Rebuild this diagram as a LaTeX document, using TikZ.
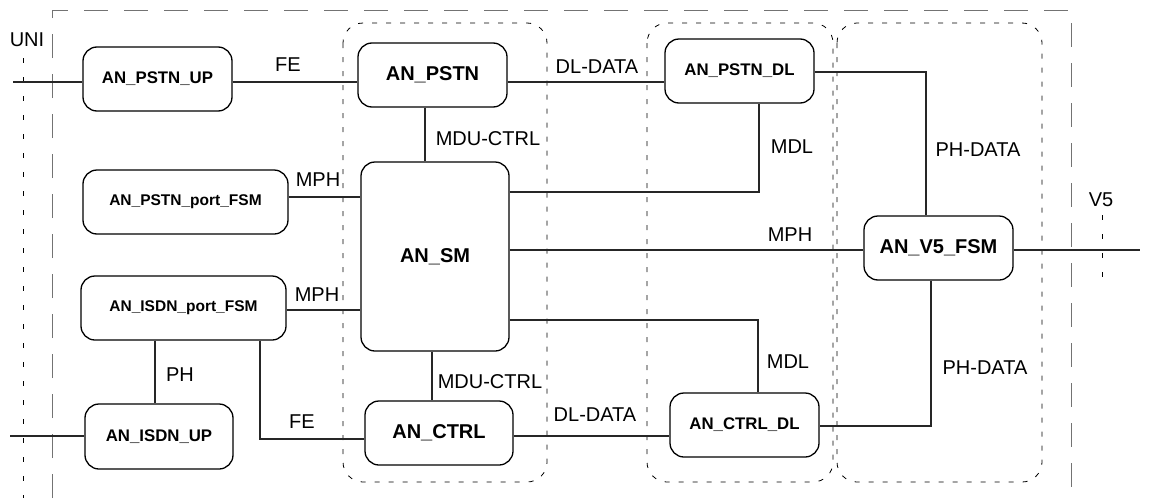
\documentclass[tikz,border=0pt]{standalone}
\usepackage{fontspec}
\setmainfont{Liberation Sans}
\begin{document}
\begin{tikzpicture}[x=1pt,y=-1pt,
  blk/.style={draw=black, line width=1.3pt, rounded corners=14pt, inner sep=0pt, minimum width=149pt, minimum height=64pt, font=\bfseries},
  bigtxt/.style={font=\fontsize{20}{24}\selectfont\bfseries},
  midtxt/.style={font=\fontsize{16.8}{20}\selectfont\bfseries},
  smltxt/.style={font=\fontsize{15.5}{19}\selectfont\bfseries},
  lbl/.style={font=\fontsize{20}{24}\selectfont, inner sep=0pt},
  wire/.style={line width=1.3pt, draw=black!85},
  grp/.style={draw=black, line width=0.8pt, dash pattern=on 5pt off 9pt, rounded corners=20pt},
  frame/.style={draw=black!55, line width=0.9pt, dash pattern=on 24pt off 16pt},
  refline/.style={draw=black, line width=0.9pt, dash pattern=on 5pt off 14pt}]
\useasboundingbox (0,0) rectangle (1151,498);
% outer frame
\draw[frame] (52,498) -- (52,10) -- (1071,10) -- (1071,498);
% groups
\draw[grp] (343,23) rectangle (547,482);
\draw[grp] (647,23) rectangle (833,482);
\draw[grp] (837,23) rectangle (1042,482);
% reference points
\draw[refline] (23,58) -- (23,498);
\node[lbl] (uni) at (27,40) {UNI};
\draw[refline] (1102,215) -- (1102,280);
\node[lbl] (v5lbl) at (1101,200) {V5};
% blocks
\node[blk, midtxt] (pstnup) at (157.5,79) {AN\_PSTN\_UP};
\node[blk, smltxt, minimum width=205pt] (pfsm) at (185.5,202) {AN\_PSTN\_port\_FSM};
\node[blk, smltxt, minimum width=205pt] (ifsm) at (183.5,308) {AN\_ISDN\_port\_FSM};
\node[blk, midtxt, minimum width=148pt, minimum height=65pt] (iup) at (159,436.5) {AN\_ISDN\_UP};
\node[blk, bigtxt] (pstn) at (432.5,75) {AN\_PSTN};
\node[blk, bigtxt, minimum width=148pt, minimum height=189pt] (sm) at (435,256.5) {AN\_SM};
\node[blk, bigtxt, minimum width=148pt] (ctrl) at (439,433) {AN\_CTRL};
\node[blk, midtxt] (pstndl) at (739.5,71) {AN\_PSTN\_DL};
\node[blk, midtxt] (cdl) at (744.5,425) {AN\_CTRL\_DL};
\node[blk, bigtxt] (v5) at (938.5,248) {AN\_V5\_FSM};
% free ends
\coordinate (uniL) at (13,82);
\coordinate (isdnL) at (10,436);
\coordinate (v5R) at (1140,250);
% connectors
\draw[wire] (uniL) -- (pstnup.west |- uniL);
\draw[wire] (pstnup.east |- uniL) -- (pstn.west |- uniL);
\draw[wire] (pstn.east |- uniL) -- (pstndl.west |- uniL);
\draw[wire] (pstn.south -| 425,0) -- (sm.north -| 425,0);
\draw[wire] (pfsm.east |- 0,197) -- (sm.west |- 0,197);
\draw[wire] (sm.east |- 0,192) -| (pstndl.south -| 759,0);
\draw[wire] (pstndl.east |- 0,72) -| (v5.north -| 926,0);
\draw[wire] (sm.east |- 0,250) -- (v5.west |- 0,250);
\draw[wire] (v5.east |- v5R) -- (v5R);
\draw[wire] (sm.east |- 0,320) -| (cdl.north -| 758,0);
\draw[wire] (v5.south -| 931,0) |- (cdl.east |- 0,426);
\draw[wire] (ifsm.east |- 0,310) -- (sm.west |- 0,310);
\draw[wire] (ifsm.south -| 155,0) -- (iup.north -| 155,0);
\draw[wire] (ifsm.south -| 260,0) |- (ctrl.west |- 0,439);
\draw[wire] (isdnL) -- (iup.west |- isdnL);
\draw[wire] (sm.south -| 432,0) -- (ctrl.north -| 432,0);
\draw[wire] (ctrl.east |- 0,436) -- (cdl.west |- 0,436);
% labels
\node[lbl] at (288,65) {FE};
\node[lbl] at (597,67) {DL-DATA};
\node[lbl] at (488,139) {MDU-CTRL};
\node[lbl] at (318,180) {MPH};
\node[lbl] at (792,147) {MDL};
\node[lbl] at (978,150) {PH-DATA};
\node[lbl] at (790,235) {MPH};
\node[lbl] at (788,362) {MDL};
\node[lbl] at (985,368) {PH-DATA};
\node[lbl] at (317,295) {MPH};
\node[lbl] at (180,375) {PH};
\node[lbl] at (302,422) {FE};
\node[lbl] at (490,382) {MDU-CTRL};
\node[lbl] at (595,415) {DL-DATA};
\end{tikzpicture}
\end{document}
